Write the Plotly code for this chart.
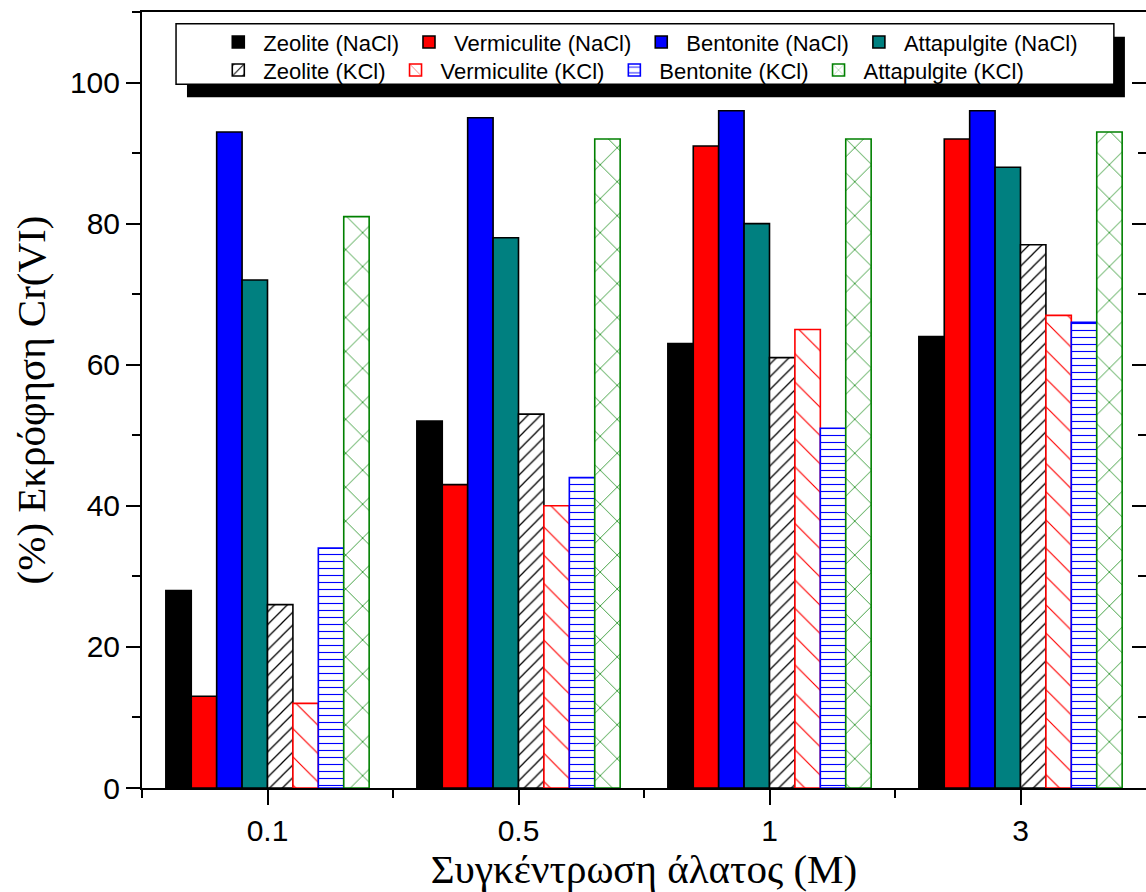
import plotly.graph_objects as go

# Salt concentration categories (M)
categories = ["0.1", "0.5", "1", "3"]

# Cr(VI) desorption (%) for each clay, NaCl series
zeolite_nacl = [28, 52, 63, 64]
vermiculite_nacl = [13, 43, 91, 92]
bentonite_nacl = [93, 95, 96, 96]
attapulgite_nacl = [72, 78, 80, 88]

# Cr(VI) desorption (%) for each clay, KCl series
zeolite_kcl = [26, 53, 61, 77]
vermiculite_kcl = [12, 40, 65, 67]
bentonite_kcl = [34, 44, 51, 66]
attapulgite_kcl = [81, 92, 92, 93]

x_pos = list(range(len(categories)))

fig = go.Figure()

nacl_series = [
    ("Zeolite (NaCl)", zeolite_nacl, "#000000"),
    ("Vermiculite (NaCl)", vermiculite_nacl, "#ff0000"),
    ("Bentonite (NaCl)", bentonite_nacl, "#0000ff"),
    ("Attapulgite (NaCl)", attapulgite_nacl, "#008080"),
]
for name, vals, col in nacl_series:
    fig.add_trace(go.Bar(
        name=name, x=x_pos, y=vals, legend="legend",
        marker=dict(color=col, line=dict(color="#000000", width=1.6)),
    ))

kcl_series = [
    ("Zeolite (KCl)", zeolite_kcl, "#000000", "/", 9, 0.14),
    ("Vermiculite (KCl)", vermiculite_kcl, "#ff0000", "\\", 20, 0.06),
    ("Bentonite (KCl)", bentonite_kcl, "#0000ff", "-", 7, 0.16),
    ("Attapulgite (KCl)", attapulgite_kcl, "#008000", "x", 24, 0.06),
]
for name, vals, col, shape, size, sol in kcl_series:
    fig.add_trace(go.Bar(
        name=name, x=x_pos, y=vals, legend="legend2",
        marker=dict(
            color="white",
            line=dict(color=col, width=1.6),
            pattern=dict(shape=shape, fgcolor=col, bgcolor="white",
                         size=size, solidity=sol, fillmode="replace"),
        ),
    ))

# empty trace so the right-hand frame axis is drawn
fig.add_trace(go.Scatter(x=[], y=[], yaxis="y2", showlegend=False, hoverinfo="skip"))

tick_font = dict(family="Liberation Sans, Arial, sans-serif", size=30, color="#000000")
title_font = dict(family="Liberation Serif, Times New Roman, serif", size=41, color="#000000")
legend_font = dict(family="Liberation Sans, Arial, sans-serif", size=22, color="#000000")

fig.update_layout(
    width=1146, height=892,
    margin=dict(l=142, r=0, t=12, b=104),
    paper_bgcolor="white", plot_bgcolor="white",
    barmode="group", bargap=0.19, bargroupgap=0,
    showlegend=True,
    xaxis=dict(
        range=[-0.5, 3.5],
        tickmode="array", tickvals=x_pos, ticktext=categories,
        ticks="outside", ticklen=15, tickwidth=2, tickcolor="#000000",
        minor=dict(tickmode="array", tickvals=[-0.5, 0.5, 1.5, 2.5],
                   ticks="outside", ticklen=8, tickwidth=2, tickcolor="#000000"),
        showline=True, linecolor="#000000", linewidth=2, mirror=True,
        showgrid=False, zeroline=False,
        tickfont=tick_font,
        title=dict(text="Συγκέντρωση άλατος (M)", font=title_font, standoff=10),
    ),
    yaxis=dict(
        range=[0, 110],
        tickmode="linear", tick0=0, dtick=20,
        ticks="outside", ticklen=14, tickwidth=2, tickcolor="#000000",
        minor=dict(tickmode="linear", tick0=10, dtick=20,
                   ticks="outside", ticklen=8, tickwidth=2, tickcolor="#000000"),
        showline=True, linecolor="#000000", linewidth=2,
        showgrid=False, zeroline=False,
        tickfont=tick_font,
        title=dict(text="(%) Εκρόφηση Cr(VI)", font=title_font, standoff=12),
    ),
    yaxis2=dict(
        overlaying="y", side="right", range=[0, 110],
        tickmode="linear", tick0=0, dtick=20,
        ticks="inside", ticklen=14, tickwidth=2, tickcolor="#000000",
        minor=dict(tickmode="linear", tick0=10, dtick=20,
                   ticks="inside", ticklen=8, tickwidth=2, tickcolor="#000000"),
        showline=True, linecolor="#000000", linewidth=2,
        showticklabels=False, showgrid=False, zeroline=False,
    ),
    legend=dict(
        orientation="h", x=0.071, xanchor="left", y=0.961, yanchor="middle",
        bgcolor="rgba(0,0,0,0)", borderwidth=0, font=legend_font,
        itemwidth=40, itemclick=False, itemdoubleclick=False,
    ),
    legend2=dict(
        orientation="h", x=0.071, xanchor="left", y=0.925, yanchor="middle",
        bgcolor="rgba(0,0,0,0)", borderwidth=0, font=legend_font,
        itemwidth=40, itemclick=False, itemdoubleclick=False,
    ),
    shapes=[
        # legend box drop shadow
        dict(type="rect", xref="paper", yref="paper",
             x0=0.0448, x1=0.979, y0=0.890, y1=0.968,
             fillcolor="#000000", line=dict(width=0), layer="below"),
        # legend box
        dict(type="rect", xref="paper", yref="paper",
             x0=0.0339, x1=0.968, y0=0.907, y1=0.985,
             fillcolor="white", line=dict(color="#000000", width=1.5), layer="below"),
    ],
)

fig.write_html("out.html")
